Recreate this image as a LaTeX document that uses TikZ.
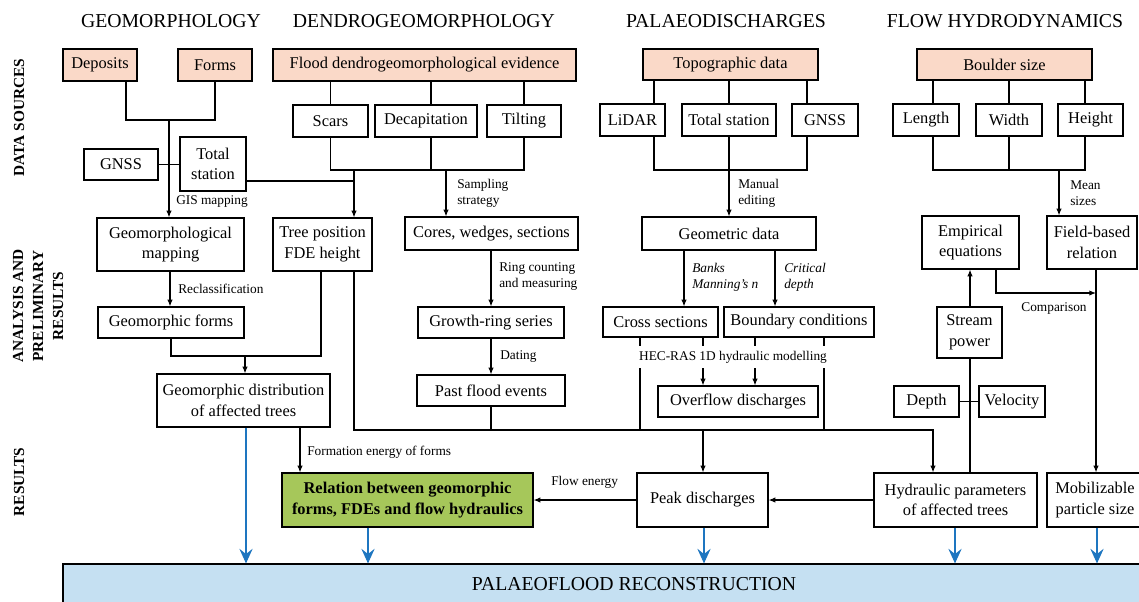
\documentclass[tikz,border=0pt]{standalone}
\usepackage{fontspec}
\setmainfont{Liberation Serif}
\usetikzlibrary{arrows.meta}
\definecolor{pinkf}{RGB}{250,217,200}
\definecolor{greenf}{RGB}{166,199,90}
\definecolor{bluef}{RGB}{197,224,242}
\definecolor{bluea}{RGB}{30,118,192}
\begin{document}
\begin{tikzpicture}[x=0.75pt,y=-0.75pt,
 box/.style={draw, line width=0.9pt, inner sep=1pt, align=center, font=\rmfamily\fontsize{12.3}{15.5}\selectfont},
 sz/.style 2 args={minimum width=#1*0.75pt, minimum height=#2*0.75pt},
 pinkbox/.style={box, fill=pinkf},
 hdr/.style={font=\rmfamily\fontsize{14.8}{17}\selectfont, inner sep=0pt},
 side/.style={rotate=90, align=center, font=\rmfamily\bfseries\fontsize{11.5}{15}\selectfont, inner sep=0pt},
 lbl/.style={font=\rmfamily\fontsize{10}{12}\selectfont, align=left, anchor=west, inner sep=0pt},
 ilbl/.style={lbl, font=\rmfamily\itshape\fontsize{10}{12}\selectfont},
 ln/.style={line width=0.8pt},
 arr/.style={ln, -{Latex[length=5pt,width=4pt]}},
 barr/.style={line width=0.8pt, draw=bluea, -{Stealth[length=11pt,width=10pt,inset=4pt]}, bluea}
]
\useasboundingbox (0,0) rectangle (1139,601);

% headers
\node[hdr] (h1) at (171,21.5) {GEOMORPHOLOGY};
\node[hdr] (h2) at (424,21.5) {DENDROGEOMORPHOLOGY};
\node[hdr] (h3) at (726,21.5) {PALAEODISCHARGES};
\node[hdr] (h4) at (1005,21.5) {FLOW HYDRODYNAMICS};

% side labels
\node[side] (s1) at (19,117.5) {DATA SOURCES};
\node[side] (s2) at (38,306) {ANALYSIS AND\\PRELIMINARY\\RESULTS};
\node[side] (s3) at (19,482) {RESULTS};

% row 1
\node[pinkbox, sz={74}{32}] (dep) at (100,65) {Deposits};
\node[pinkbox, sz={74}{32}] (frm) at (215,65) {Forms};
\node[pinkbox, sz={303}{32}] (fde) at (424.5,65) {Flood dendrogeomorphological evidence};
\node[pinkbox, sz={175}{31}] (topo) at (730.5,64.5) {Topographic data};
\node[pinkbox, sz={175}{31}] (bould) at (1004.5,64.5) {Boulder size};

% row 2
\node[box, sz={75}{32}] (scars) at (330.5,121) {Scars};
\node[box, sz={102}{32}] (decap) at (426,121) {Decapitation};
\node[box, sz={74}{32}] (tilt) at (524,121) {Tilting};
\node[box, sz={65}{32}] (lidar) at (632.5,120) {LiDAR};
\node[box, sz={94}{32}] (tstat) at (729,120) {Total station};
\node[box, sz={66}{32}] (gnssp) at (825,120) {GNSS};
\node[box, sz={66}{32}] (len) at (926,120) {Length};
\node[box, sz={66}{32}] (wid) at (1009,120) {Width};
\node[box, sz={65}{32}] (hgt) at (1090.5,120) {Height};
\node[box, sz={74}{31}] (gnssg) at (121,164.5) {GNSS};
\node[box, sz={66}{54}] (tsg) at (213,164) {Total\\station};

% row 3
\node[box, sz={147}{53}] (gmap) at (170.5,244.5) {Geomorphological\\mapping};
\node[box, sz={99}{53}] (tree) at (322.5,244.5) {Tree position\\FDE height};
\node[box, sz={173}{33}] (cores) at (491.5,233.5) {Cores, wedges, sections};
\node[box, sz={174}{33}] (geom) at (729,233.5) {Geometric data};
\node[box, sz={97}{53}] (emp) at (970.5,242.5) {Empirical\\equations};
\node[box, sz={90}{53}] (field) at (1092,242.5) {Field-based\\relation};

% row 4
\node[box, sz={146}{31}] (gforms) at (171,322.5) {Geomorphic forms};
\node[box, sz={146}{31}] (growth) at (491,322.5) {Growth-ring series};
\node[box, sz={115}{30}] (cross) at (660.5,322) {Cross sections};
\node[box, sz={150}{30}] (bound) at (799,322) {Boundary conditions};
\node[box, sz={65}{51}] (stream) at (969.5,332.5) {Stream\\power};

% row 5
\node[box, sz={173}{53}] (gdist) at (243.5,400.5) {Geomorphic distribution\\of affected trees};
\node[box, sz={148}{31}] (past) at (491,390.5) {Past flood events};
\node[box, sz={160}{31}] (over) at (738,401.5) {Overflow discharges};
\node[box, sz={65}{31}] (depth) at (926.5,401.5) {Depth};
\node[box, sz={66}{31}] (vel) at (1012,401.5) {Velocity};

% results
\node[box, sz={251}{54}, fill=greenf, font=\rmfamily\bfseries\fontsize{12.3}{15.5}\selectfont] (green) at (407.5,500) {Relation between geomorphic\\forms, FDEs and flow hydraulics};
\node[box, sz={131}{54}] (peak) at (702.5,500) {Peak discharges};
\node[box, sz={163}{54}] (hyd) at (955.5,500) {Hydraulic parameters\\of affected trees};
\node[box, sz={96}{54}] (mob) at (1095,500) {Mobilizable\\particle size};
\node[box, sz={1142}{40}, fill=bluef, font=\rmfamily\fontsize{14.8}{17}\selectfont] (palaeo) at (634,584) {PALAEOFLOOD RECONSTRUCTION};

% junctions
\coordinate (g1) at (169,120);
\coordinate (d1) at (354,170);
\coordinate (d2) at (446,170);
\coordinate (p1) at (729,170);
\coordinate (f1) at (1059,170);
\coordinate (gm) at (245,356);
\coordinate (bus) at (933,430);

% geomorphology
\draw[ln] (dep.south -| 126,0) |- (g1);
\draw[ln] (frm.south -| 215,0) |- (g1);
\draw[arr] (g1) -- (gmap.north -| g1);
\draw[ln] (gnssg.east) -- (tsg.west |- gnssg.east);
\draw[ln] (tsg.east |- 0,181) -| (d1);

% dendro
\draw[ln] (fde.south -| scars) -- (scars.north);
\draw[ln] (fde.south -| 431,0) -- (decap.north -| 431,0);
\draw[ln] (fde.south -| tilt) -- (tilt.north);
\draw[ln] (scars.south) |- (tilt.south |- d1) -- (tilt.south);
\draw[ln] (decap.south -| 431,0) -- (431,170);
\draw[arr] (d1) -- (tree.north -| d1);
\draw[arr] (d2) -- (cores.north -| d2);

% palaeodischarges
\draw[ln] (topo.south -| 654,0) -- (lidar.north -| 654,0);
\draw[ln] (topo.south -| tstat) -- (tstat.north);
\draw[ln] (topo.south -| 807,0) -- (gnssp.north -| 807,0);
\draw[ln] (lidar.south -| 654,0) |- (807,170) -- (gnssp.south -| 807,0);
\draw[ln] (tstat.south) -- (p1);
\draw[arr] (p1) -- (geom.north -| p1);

% flow hydrodynamics
\draw[ln] (bould.south -| 933,0) -- (len.north -| 933,0);
\draw[ln] (bould.south -| wid) -- (wid.north);
\draw[ln] (bould.south -| 1085,0) -- (hgt.north -| 1085,0);
\draw[ln] (len.south -| 933,0) |- (1085,170) -- (hgt.south -| 1085,0);
\draw[ln] (wid.south) -- (wid.south |- f1);
\draw[arr] (f1) -- (field.north -| f1);

% analysis
\draw[arr] (gmap.south -| 170,0) -- (gforms.north -| 170,0);
\draw[ln] (gforms.south -| 171,0) |- (321,356) -- (tree.south -| 321,0);
\draw[arr] (gm) -- (gdist.north -| gm);
\draw[arr] (cores.south -| 491,0) -- (growth.north -| 491,0);
\draw[arr] (growth.south -| 491,0) -- (past.north -| 491,0);
\draw[arr] (geom.south -| 684,0) -- (cross.north -| 684,0);
\draw[arr] (geom.south -| 775,0) -- (bound.north -| 775,0);
\draw[arr] (cross.south -| 703,0) -- (over.north -| 703,0);
\draw[arr] (bound.south -| 755,0) -- (over.north -| 755,0);
\draw[ln] (cross.south -| 640,0) -- (640,430);
\draw[ln] (bound.south -| 824,0) -- (824,430);
\draw[ln] (past.south -| 491,0) -- (491,430);
\draw[arr] (tree.south -| 354,0) |- (bus) -- (hyd.north -| bus);
\draw[arr] (703,430) -- (peak.north -| 703,0);

\draw[arr] (stream.north -| 970,0) -- (emp.south -| 970,0);
\draw[ln] (hyd.north -| 970,0) -- (stream.south -| 970,0);
\draw[ln] (depth.east) -- (vel.west);
\draw[arr] (emp.south -| 996,0) |- (1096,293);
\draw[arr] (field.south -| 1096,0) -- (mob.north -| 1096,0);

% results
\draw[arr] (gdist.south -| 300,0) -- (green.north -| 300,0);
\draw[arr] (hyd.west) -- (peak.east);
\draw[arr] (peak.west) -- (green.east);

% blue arrows
\draw[barr] (gdist.south -| 246,0) -- (palaeo.north -| 246,0);
\draw[barr] (green.south -| 368,0) -- (palaeo.north -| 368,0);
\draw[barr] (peak.south -| 704,0) -- (palaeo.north -| 704,0);
\draw[barr] (hyd.south -| 955,0) -- (palaeo.north -| 955,0);
\draw[barr] (mob.south -| 1097,0) -- (palaeo.north -| 1097,0);

% labels
\node[lbl] (lgis) at (176,202) {GIS mapping};
\node[lbl] (lsamp) at (457,193) {Sampling\\strategy};
\node[lbl] (lman) at (738,193) {Manual\\editing};
\node[lbl] (lmean) at (1070,193) {Mean\\sizes};
\node[lbl] (lrecl) at (178,289) {Reclassification};
\node[lbl] (lring) at (499,277) {Ring counting\\and measuring};
\node[lbl] (ldat) at (500,357) {Dating};
\node[ilbl] (lbank) at (692,277) {Banks\\Manning’s n};
\node[ilbl] (lcrit) at (784,277) {Critical\\depth};
\node[lbl, anchor=center, fill=white, inner xsep=1.5pt, inner ysep=3.5pt] (lhec) at (733,357) {HEC-RAS 1D hydraulic modelling};
\node[lbl, anchor=center] (lcomp) at (1054,308) {Comparison};
\node[lbl] (lform) at (307,452) {Formation energy of forms};
\node[lbl] (lflow) at (551,482) {Flow energy};
\end{tikzpicture}
\end{document}
